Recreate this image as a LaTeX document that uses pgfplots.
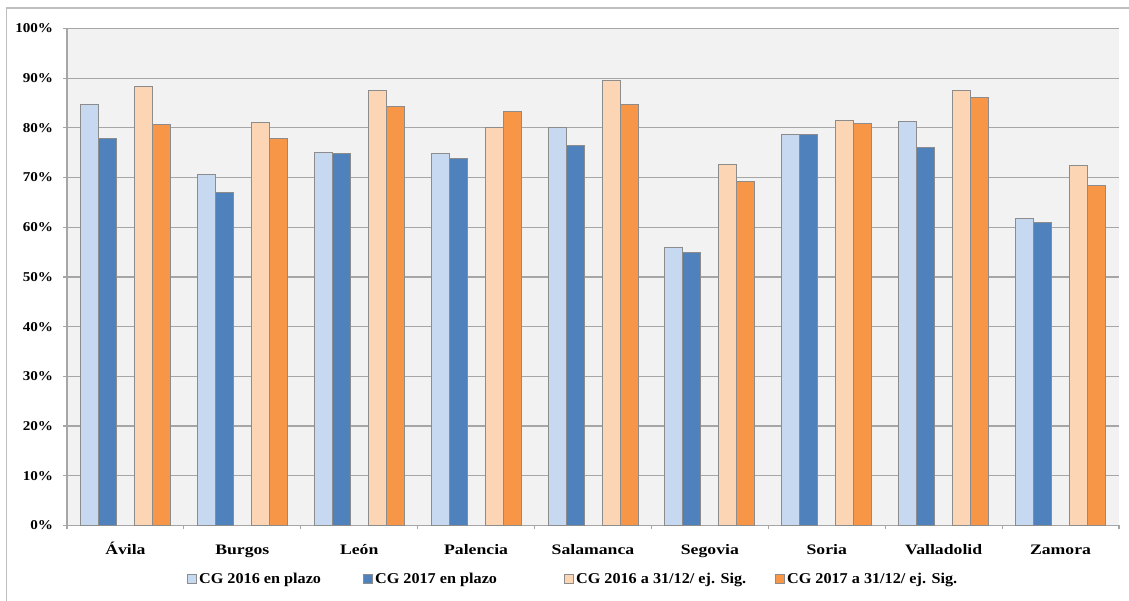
\documentclass[border=0pt]{standalone}
\usepackage{pgfplots}
\usepackage{pgfplotstable}
\pgfplotsset{compat=1.18}
\usepackage{fontspec}
\setmainfont{Liberation Serif}
\usepackage{graphicx}

\definecolor{cA}{HTML}{C6D9F1}
\definecolor{cB}{HTML}{4F81BD}
\definecolor{cC}{HTML}{FCD5B5}
\definecolor{cD}{HTML}{F79646}
\definecolor{bgc}{HTML}{F2F2F2}
\definecolor{grd}{HTML}{A6A6A6}
\definecolor{edg}{HTML}{8C8C8C}
\definecolor{frm}{HTML}{BFBFBF}

\newcommand{\hs}[2]{\scalebox{#1}[1]{#2}}

\pgfplotstableread{
x a b c d
0 84.7 77.8 88.3 80.6
1 70.6 66.9 81.0 77.9
2 75.0 74.9 87.6 84.3
3 74.9 73.8 80.1 83.2
4 80.1 76.5 89.5 84.8
5 56.0 55.0 72.7 69.3
6 78.7 78.7 81.4 80.9
7 81.3 76.0 87.5 86.2
8 61.7 60.9 72.5 68.5
}\data

\pgfplotsset{sqleg/.style={legend image code/.code={\draw[#1] (0bp,-4.5bp) rectangle (9bp,4.5bp);}}}

\begin{document}
\begin{tikzpicture}[x=1bp,y=1bp]
\useasboundingbox (0,0) rectangle (1129,601);
\fill[white] (0,0) rectangle (1129,601);
\draw[frm, line width=1.2bp] (6.5,0) -- (6.5,593) -- (1129,593);
\begin{axis}[
  at={(67bp,75.5bp)}, anchor=south west,
  scale only axis, width=1052bp, height=497bp,
  xmin=-0.5, xmax=8.5, ymin=0, ymax=100,
  axis background/.style={fill=bgc},
  axis x line*=bottom, axis y line*=left,
  axis line style={grd, line width=1.2bp},
  ymajorgrids, grid style={grd, line width=1.2bp},
  ytick={0,10,...,100},
  yticklabels={\hs{1.12}{0\%},\hs{1.12}{10\%},\hs{1.12}{20\%},\hs{1.12}{30\%},\hs{1.12}{40\%},\hs{1.12}{50\%},\hs{1.12}{60\%},\hs{1.12}{70\%},\hs{1.12}{80\%},\hs{1.12}{90\%},\hs{1.12}{100\%}},
  xtick={0,...,8},
  xticklabels={\hs{1.22}{Ávila},\hs{1.22}{Burgos},\hs{1.22}{León},\hs{1.22}{Palencia},\hs{1.22}{Salamanca},\hs{1.22}{Segovia},\hs{1.22}{Soria},\hs{1.22}{Valladolid},\hs{1.22}{Zamora}},
  minor xtick={-0.5,0.5,...,8.5},
  tick align=outside,
  major tick length=4bp, minor tick length=4bp,
  tick style={grd, line width=1.2bp},
  major x tick style={draw=none},
  yticklabel style={font=\bfseries\fontsize{13.5bp}{15bp}\selectfont, anchor=east, inner sep=0pt, xshift=-9.7bp},
  xticklabel style={font=\bfseries\fontsize{14.5bp}{16bp}\selectfont, anchor=base, inner sep=0pt, yshift=-25.5bp},
  legend style={at={(0.114,-0.108)}, anchor=west, draw=none, fill=none, inner sep=0pt,
    font=\bfseries\fontsize{15bp}{18bp}\selectfont,
    /tikz/every even column/.append style={column sep=0pt}},
  legend columns=4, legend cell align=left,
]
\addplot[ybar, bar width=18bp, bar shift=-36bp, fill=cA, draw=edg, line width=1bp, sqleg] table[x=x,y=a]{\data};
\addlegendentry{\makebox[162bp][l]{\hs{1.08}{CG 2016 en plazo}}}
\addplot[ybar, bar width=18bp, bar shift=-18bp, fill=cB, draw=edg, line width=1bp, sqleg] table[x=x,y=b]{\data};
\addlegendentry{\makebox[187bp][l]{\hs{1.08}{CG 2017 en plazo}}}
\addplot[ybar, bar width=18bp, bar shift=18bp, fill=cC, draw=edg, line width=1bp, sqleg] table[x=x,y=c]{\data};
\addlegendentry{\makebox[197bp][l]{\hs{1.08}{CG 2016 a 31/12/ ej. Sig.}}}
\addplot[ybar, bar width=18bp, bar shift=36bp, fill=cD, draw=edg, line width=1bp, sqleg] table[x=x,y=d]{\data};
\addlegendentry{\hs{1.08}{CG 2017 a 31/12/ ej. Sig.}}
\end{axis}
\end{tikzpicture}
\end{document}
